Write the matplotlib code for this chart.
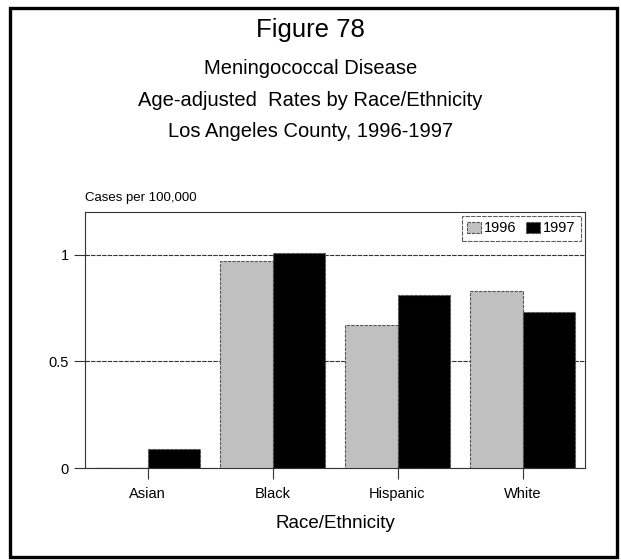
import matplotlib
matplotlib.use("Agg")
import matplotlib.pyplot as plt
import numpy as np
from matplotlib.patches import Rectangle

# Data
groups = ["Asian", "Black", "Hispanic", "White"]
rates_1996 = [0.0, 0.97, 0.67, 0.83]
rates_1997 = [0.09, 1.01, 0.81, 0.73]
years = ["1996", "1997"]
yticks = [0, 0.5, 1]
ytick_labels = ["0", "0.5", "1"]

plt.rcParams["font.family"] = ["Liberation Sans", "DejaVu Sans"]

fig = plt.figure(figsize=(6.21, 5.60), dpi=100)
W, H = 621, 560

# outer frame
fig.patches.append(Rectangle((10 / W, 3 / H), 607 / W, 549 / H, transform=fig.transFigure,
                             fill=False, edgecolor="black", linewidth=2.4))

fig.text(0.5, 1 - 30 / H, "Figure 78", ha="center", va="center", fontsize=18.5)
fig.text(0.5, 1 - 68 / H, "Meningococcal Disease", ha="center", va="center", fontsize=14.5)
fig.text(0.5, 1 - 100 / H, "Age-adjusted  Rates by Race/Ethnicity", ha="center", va="center", fontsize=14.5)
fig.text(0.5, 1 - 131 / H, "Los Angeles County, 1996-1997", ha="center", va="center", fontsize=14.5)

ax = fig.add_axes([85 / W, 1 - 468 / H, 500 / W, 256 / H])

x = np.arange(len(groups))
w = 0.42
edge = dict(edgecolor="#555555", linewidth=0.8, linestyle=(0, (3, 1)))
ax.bar(x - w / 2, rates_1996, w, color="#c0c0c0", label=years[0], zorder=3, **edge)
ax.bar(x + w / 2, rates_1997, w, color="black", label=years[1], zorder=3, **edge)

ax.set_xlim(-0.5, 3.5)
ax.set_ylim(0, 1.2)
ax.set_yticks(yticks)
ax.set_yticklabels(ytick_labels)
ax.set_xticks(x)
ax.set_xticklabels(groups)
ax.tick_params(axis="both", labelsize=10.5, length=8, width=0.8, color="#333333")
ax.tick_params(axis="x", pad=6)
ax.grid(axis="y", color="#333333", linestyle=(0, (4, 1)), linewidth=0.8, zorder=0)
for s in ax.spines.values():
    s.set_linestyle((0, (4, 1)))
    s.set_color("#333333")
    s.set_linewidth(0.8)

ax.set_xlabel("Race/Ethnicity", fontsize=13.5, labelpad=10)
ax.text(0, 1.03, "Cases per 100,000", transform=ax.transAxes, fontsize=9.5, ha="left", va="bottom")

leg = ax.legend(loc="upper right", ncol=2, fontsize=10.5, frameon=True, fancybox=False,
                handlelength=1.0, handleheight=0.8, handletextpad=0.2, columnspacing=0.6,
                borderpad=0.35, borderaxespad=0.3)
leg.get_frame().set_edgecolor("#333333")
leg.get_frame().set_linestyle((0, (4, 1)))
leg.get_frame().set_linewidth(0.8)

fig.savefig("out.png", dpi=100)
